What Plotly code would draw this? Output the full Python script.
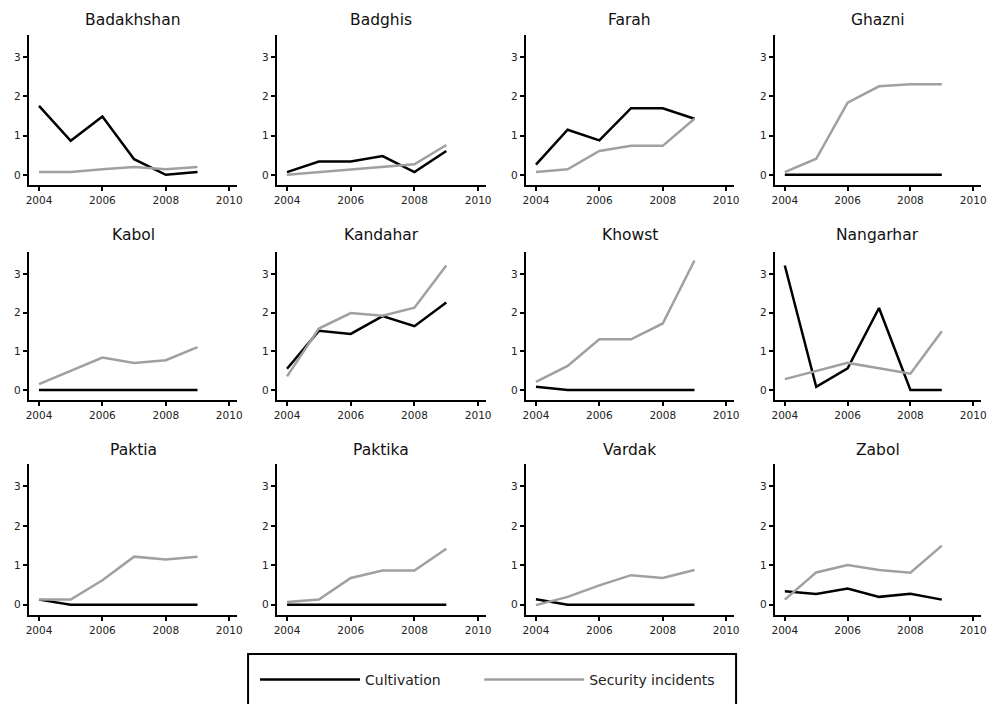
import plotly.graph_objects as go

years = [2004, 2005, 2006, 2007, 2008, 2009]
provinces = ["Badakhshan", "Badghis", "Farah", "Ghazni",
             "Kabol", "Kandahar", "Khowst", "Nangarhar",
             "Paktia", "Paktika", "Vardak", "Zabol"]

cultivation_badakhshan = [1.76, 0.87, 1.49, 0.40, 0.00, 0.07]
cultivation_badghis = [0.07, 0.34, 0.34, 0.48, 0.07, 0.61]
cultivation_farah = [0.26, 1.15, 0.88, 1.70, 1.70, 1.43]
cultivation_ghazni = [0.00, 0.00, 0.00, 0.00, 0.00, 0.00]
cultivation_kabol = [0.00, 0.00, 0.00, 0.00, 0.00, 0.00]
cultivation_kandahar = [0.55, 1.53, 1.45, 1.91, 1.65, 2.26]
cultivation_khowst = [0.08, 0.00, 0.00, 0.00, 0.00, 0.00]
cultivation_nangarhar = [3.22, 0.08, 0.56, 2.12, 0.00, 0.00]
cultivation_paktia = [0.13, 0.00, 0.00, 0.00, 0.00, 0.00]
cultivation_paktika = [0.00, 0.00, 0.00, 0.00, 0.00, 0.00]
cultivation_vardak = [0.14, 0.00, 0.00, 0.00, 0.00, 0.00]
cultivation_zabol = [0.34, 0.27, 0.41, 0.20, 0.28, 0.13]

security_badakhshan = [0.07, 0.07, 0.14, 0.20, 0.14, 0.20]
security_badghis = [0.00, 0.07, 0.14, 0.20, 0.27, 0.76]
security_farah = [0.07, 0.14, 0.61, 0.74, 0.74, 1.43]
security_ghazni = [0.07, 0.41, 1.84, 2.26, 2.31, 2.31]
security_kabol = [0.15, 0.49, 0.84, 0.70, 0.77, 1.11]
security_kandahar = [0.35, 1.59, 1.99, 1.92, 2.13, 3.22]
security_khowst = [0.21, 0.62, 1.31, 1.31, 1.72, 3.35]
security_nangarhar = [0.28, 0.49, 0.70, 0.56, 0.42, 1.52]
security_paktia = [0.13, 0.13, 0.62, 1.22, 1.15, 1.22]
security_paktika = [0.07, 0.13, 0.68, 0.87, 0.87, 1.42]
security_vardak = [-0.01, 0.20, 0.49, 0.75, 0.68, 0.88]
security_zabol = [0.13, 0.82, 1.01, 0.88, 0.81, 1.50]

cultivation = [cultivation_badakhshan, cultivation_badghis, cultivation_farah, cultivation_ghazni,
               cultivation_kabol, cultivation_kandahar, cultivation_khowst, cultivation_nangarhar,
               cultivation_paktia, cultivation_paktika, cultivation_vardak, cultivation_zabol]
security = [security_badakhshan, security_badghis, security_farah, security_ghazni,
            security_kabol, security_kandahar, security_khowst, security_nangarhar,
            security_paktia, security_paktika, security_vardak, security_zabol]

x_ticks = [2004, 2006, 2008, 2010]
y_ticks = [0, 1, 2, 3]

# the page body adds an 8px margin; lay the figure out in window pixels minus that offset
OFF = 8
W, H = 995 - OFF, 704 - OFF
col_px = [(26, 236), (276, 487), (527, 737), (778, 986)]
row_px = [(35, 185), (252, 400), (464, 615)]
title_y_px = [20, 235, 450]


def fx(p):
    return (p - OFF) / W


def fy(p):
    return 1 - (p - OFF) / H


FONT = "DejaVu Sans"
BLACK = "#000000"
GRAY = "#a0a0a0"

fig = go.Figure()
layout = dict(
    width=W, height=H,
    margin=dict(l=0, r=0, t=0, b=0),
    paper_bgcolor="white", plot_bgcolor="white",
    font=dict(family=FONT, color="#222222"),
    showlegend=True,
)
annotations = []
for i, name in enumerate(provinces):
    r, c = divmod(i, 4)
    k = i + 1
    xa = "x" if k == 1 else f"x{k}"
    ya = "y" if k == 1 else f"y{k}"
    fig.add_trace(go.Scatter(x=years, y=cultivation[i], mode="lines", name="Cultivation",
                             line=dict(color=BLACK, width=2.5), legendgroup="c",
                             legend="legend", showlegend=(i == 0),
                             xaxis=xa, yaxis=ya, hoverinfo="skip"))
    fig.add_trace(go.Scatter(x=years, y=security[i], mode="lines", name="Security incidents",
                             line=dict(color=GRAY, width=2.5), legendgroup="s",
                             legend="legend2", showlegend=(i == 0),
                             xaxis=xa, yaxis=ya, hoverinfo="skip"))
    x0, x1 = col_px[c]
    y0, y1 = row_px[r]
    axis_common = dict(showgrid=False, zeroline=False, showline=True, linecolor=BLACK,
                       linewidth=2, ticks="outside", tickcolor=BLACK, tickwidth=1.5,
                       ticklen=4, ticklabeloverflow="allow",
                       tickfont=dict(family=FONT, size=10.5, color="#222222"))
    layout["xaxis" if k == 1 else f"xaxis{k}"] = dict(
        domain=[fx(x0), fx(x1)], range=[2003.68, 2010.25], tickvals=x_ticks,
        anchor=ya, fixedrange=True, **axis_common)
    layout["yaxis" if k == 1 else f"yaxis{k}"] = dict(
        domain=[fy(y1), fy(y0)], range=[-0.26, 3.57], tickvals=y_ticks,
        anchor=xa, fixedrange=True, **axis_common)
    annotations.append(dict(text=name, x=fx((x0 + x1) / 2), y=fy(title_y_px[r]),
                            xref="paper", yref="paper", showarrow=False,
                            xanchor="center", yanchor="middle",
                            font=dict(family=FONT, size=15.5, color="#111111")))

layout["annotations"] = annotations
legend_common = dict(orientation="h", xanchor="left", yanchor="middle", y=fy(680),
                     borderwidth=0, bgcolor="rgba(0,0,0,0)",
                     font=dict(family=FONT, size=14, color="#222222"),
                     itemwidth=100, itemclick=False, itemdoubleclick=False)
layout["legend"] = dict(x=fx(254), **legend_common)
layout["legend2"] = dict(x=fx(480), **legend_common)
# legend frame (bottom edge lies below the visible page, as in the original)
layout["shapes"] = [dict(type="rect", xref="paper", yref="paper",
                         x0=fx(247), x1=fx(739), y0=fy(712), y1=fy(654),
                         line=dict(color=BLACK, width=2), fillcolor="rgba(0,0,0,0)",
                         layer="below")]
fig.update_layout(**layout)
fig.write_html("out.html")
